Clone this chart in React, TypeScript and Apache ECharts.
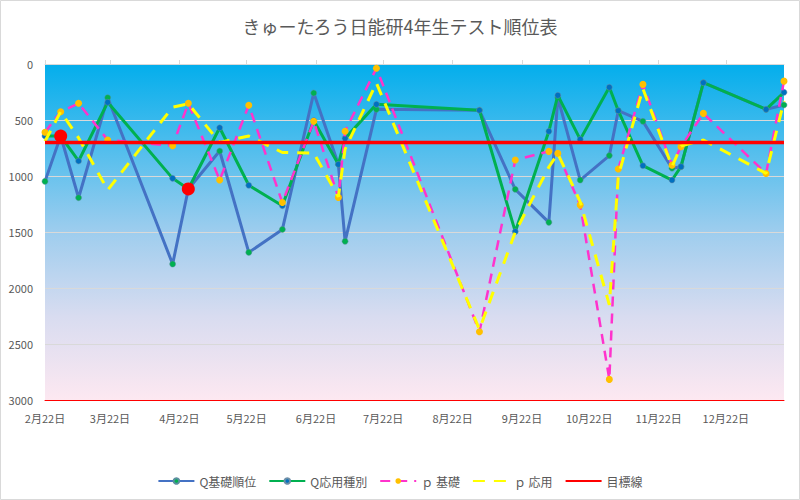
import React, { useEffect, useRef } from "react";
import * as echarts from "echarts";

const dates = [
  "2024-02-22", "2024-02-29", "2024-03-08", "2024-03-21", "2024-04-19", "2024-04-26",
  "2024-05-10", "2024-05-23", "2024-06-07", "2024-06-21", "2024-07-02", "2024-07-05",
  "2024-07-19", "2024-09-03", "2024-09-19", "2024-10-04", "2024-10-08", "2024-10-18",
  "2024-10-31", "2024-11-04", "2024-11-15", "2024-11-28", "2024-12-02", "2024-12-12",
  "2025-01-09", "2025-01-17",
];
const qBasic = [1048, 643, 1194, 301, 1786, 1116, 777, 1682, 1477, 259, 896, 1583, 405, 413, 1119, 1414, 300, 1036, 818, 417, 512, 931, 917, 167, 405, 366];
const qApplied = [643, 643, 866, 342, 1021, 1116, 569, 1083, 1265, 505, 896, 664, 360, 413, 1497, 601, 280, 673, 208, 417, 908, 1036, 917, 167, 405, 253];
const pBasic = [610, 426, 351, 679, 729, 351, 1036, 369, 1237, 512, 1191, 600, 38, 2391, 857, 780, 798, 1260, 2816, 938, 182, 903, 738, 441, 978, 153];
const pApplied = [690, 426, 660, 1125, 385, 355, 700, 643, 790, 795, 1185, 760, 170, 2370, 1500, 920, 800, 1230, 2150, 1000, 220, 917, 732, 679, 976, 330];
const targetLine = [700, 700, 700, 700, 700, 700, 700, 700, 700, 700, 700, 700, 700, 700, 700, 700, 700, 700, 700, 700, 700, 700, 700, 700, 700, 700];
const highlightDates = ["2024-02-29", "2024-04-26"];
const highlightValues = [643, 1116];
const tickDates = [
  "2024-02-22", "2024-03-22", "2024-04-22", "2024-05-22", "2024-06-22", "2024-07-22",
  "2024-08-22", "2024-09-22", "2024-10-22", "2024-11-22", "2024-12-22",
];
const axisMinDate = "2024-02-22";
const axisMaxDate = "2025-01-17";
const yTicks = [0, 3000, 500];

const seriesNames = ["Q基礎順位", "Q応用種別", "ｐ 基礎", "ｐ 応用", "目標線"];

const DAY = 86400000;
const utc = (s: string) => {
  const [y, m, d] = s.split("-").map(Number);
  return Date.UTC(y, m - 1, d);
};
const BASE = utc(axisMinDate);
const toDay = (s: string) => Math.round((utc(s) - BASE) / DAY);
const pair = (vals: number[]) => dates.map((d, i) => [toDay(d), vals[i]]);

const FONT = "'Noto Sans CJK JP', 'Noto Sans', sans-serif";
const TXT = "#595959";

export default function App() {
  const ref = useRef<HTMLDivElement>(null);
  useEffect(() => {
    if (!ref.current) return;
    const chart = echarts.init(ref.current, null, { renderer: "svg" });
    const ticks = tickDates.map(toDay);
    const xMin = toDay(axisMinDate);
    const xMax = toDay(axisMaxDate);
    const sideLine = {
      type: "linear", x: 0, y: 0, x2: 0, y2: 1,
      colorStops: [
        { offset: 0, color: "rgba(255,0,0,0.1)" },
        { offset: 1, color: "rgba(255,0,0,0.8)" },
      ],
    };
    const option: any = {
      animation: false,
      textStyle: { fontFamily: FONT },
      title: {
        text: "きゅーたろう日能研4年生テスト順位表",
        left: "center",
        top: 12,
        textStyle: { fontSize: 18, fontWeight: "normal", color: TXT, fontFamily: FONT },
      },
      graphic: [
        {
          type: "rect",
          shape: { x: 0.5, y: 0.5, width: 799, height: 499 },
          style: { fill: "none", stroke: "#D9D9D9", lineWidth: 1 },
          silent: true,
          z: -10,
        },
      ],
      legend: {
        data: [
          { name: seriesNames[0] },
          { name: seriesNames[1] },
          { name: seriesNames[2] },
          { name: seriesNames[3], itemStyle: { opacity: 0 } },
          { name: seriesNames[4], itemStyle: { opacity: 0 } },
        ],
        left: "center",
        top: 470,
        itemWidth: 36,
        itemHeight: 7,
        itemGap: 12,
        textStyle: { fontSize: 12, color: TXT, fontFamily: FONT },
      },
      grid: {
        left: 45,
        right: 16,
        top: 64,
        bottom: 100,
        show: true,
        borderWidth: 0,
        backgroundColor: {
          type: "linear",
          x: 0, y: 0, x2: 0, y2: 1,
          colorStops: [
            { offset: 0, color: "#03AEEC" },
            { offset: 0.5, color: "#9ECDEE" },
            { offset: 0.75, color: "#D8DCF0" },
            { offset: 1, color: "#FDE8F1" },
          ],
        },
        containLabel: false,
        outerBoundsMode: "none",
      },
      xAxis: [
        {
          type: "value",
          position: "bottom",
          min: xMin,
          max: xMax,
          z: 3,
          axisLine: { show: true, onZero: false, lineStyle: { color: "#FF0000", width: 1 } },
          axisTick: { show: false },
          splitLine: { show: false },
          axisLabel: {
            customValues: ticks,
            color: TXT,
            fontSize: 11,
            margin: 12,
            fontFamily: FONT,
            hideOverlap: false,
            formatter: (v: number) => {
              const d = new Date(BASE + v * DAY);
              return `${d.getUTCMonth() + 1}月${d.getUTCDate()}日`;
            },
          },
        },
        {
          type: "value",
          position: "top",
          min: xMin,
          max: xMax,
          z: 3,
          axisLine: { show: true, onZero: false, lineStyle: { color: "#D9D9D9", width: 1 } },
          axisTick: { show: true, customValues: ticks, length: 4, lineStyle: { color: "#D9D9D9" } },
          axisLabel: { show: false },
          splitLine: { show: false },
        },
      ],
      yAxis: [
        {
          type: "value",
          inverse: true,
          min: yTicks[0],
          max: yTicks[1],
          interval: yTicks[2],
          axisLine: { show: true, lineStyle: { color: sideLine, width: 1 } },
          axisTick: { show: false },
          axisLabel: {
            color: TXT,
            fontSize: 11,
            margin: 12,
            fontFamily: FONT,
            formatter: (v: number) => String(v),
          },
          splitLine: { show: true, lineStyle: { color: "#D9D9D9", width: 1 } },
        },
        {
          type: "value",
          inverse: true,
          position: "right",
          min: yTicks[0],
          max: yTicks[1],
          interval: yTicks[2],
          z: 3,
          axisLine: { show: true, lineStyle: { color: sideLine, width: 1 } },
          axisTick: { show: false },
          axisLabel: { show: false },
          splitLine: { show: false },
        },
      ],
      series: [
        {
          name: seriesNames[0],
          type: "line",
          data: pair(qBasic),
          symbol: "circle",
          symbolSize: 6,
          z: 2,
          lineStyle: { color: "#4472C4", width: 3 },
          itemStyle: { color: "#00B050", borderColor: "#5b8f9f", borderWidth: 0.5 },
          emphasis: { disabled: true },
        },
        {
          name: seriesNames[1],
          type: "line",
          data: pair(qApplied),
          symbol: "circle",
          symbolSize: 6,
          z: 3,
          lineStyle: { color: "#00B050", width: 3 },
          itemStyle: { color: "#0070C0", borderColor: "#6e8fa8", borderWidth: 0.5 },
          emphasis: { disabled: true },
        },
        {
          name: seriesNames[2],
          type: "line",
          data: pair(pBasic),
          symbol: "circle",
          symbolSize: 7,
          z: 4,
          lineStyle: { color: "#FF33CC", width: 2.5, type: [10, 7] },
          itemStyle: { color: "#FFC000" },
          emphasis: { disabled: true },
        },
        {
          name: seriesNames[3],
          type: "line",
          data: pair(pApplied),
          symbol: "none",
          z: 5,
          lineStyle: { color: "#FFFF00", width: 3, type: [12, 9] },
          itemStyle: { color: "#FFFF00" },
          emphasis: { disabled: true },
        },
        {
          name: seriesNames[4],
          type: "line",
          data: pair(targetLine),
          symbol: "none",
          z: 6,
          lineStyle: { color: "#FF0000", width: 3.5 },
          itemStyle: { color: "#FF0000" },
          emphasis: { disabled: true },
        },
        {
          name: "強調",
          type: "scatter",
          data: highlightDates.map((d, i) => [toDay(d), highlightValues[i]]),
          symbol: "circle",
          symbolSize: 13,
          z: 7,
          itemStyle: { color: "#FF0000", opacity: 1 },
          emphasis: { disabled: true },
        },
      ],
    };
    chart.setOption(option);
    return () => chart.dispose();
  }, []);
  return (
    <div
      ref={ref}
      style={{ position: "absolute", left: 0, top: 0, width: 800, height: 500, background: "#fff" }}
    />
  );
}
